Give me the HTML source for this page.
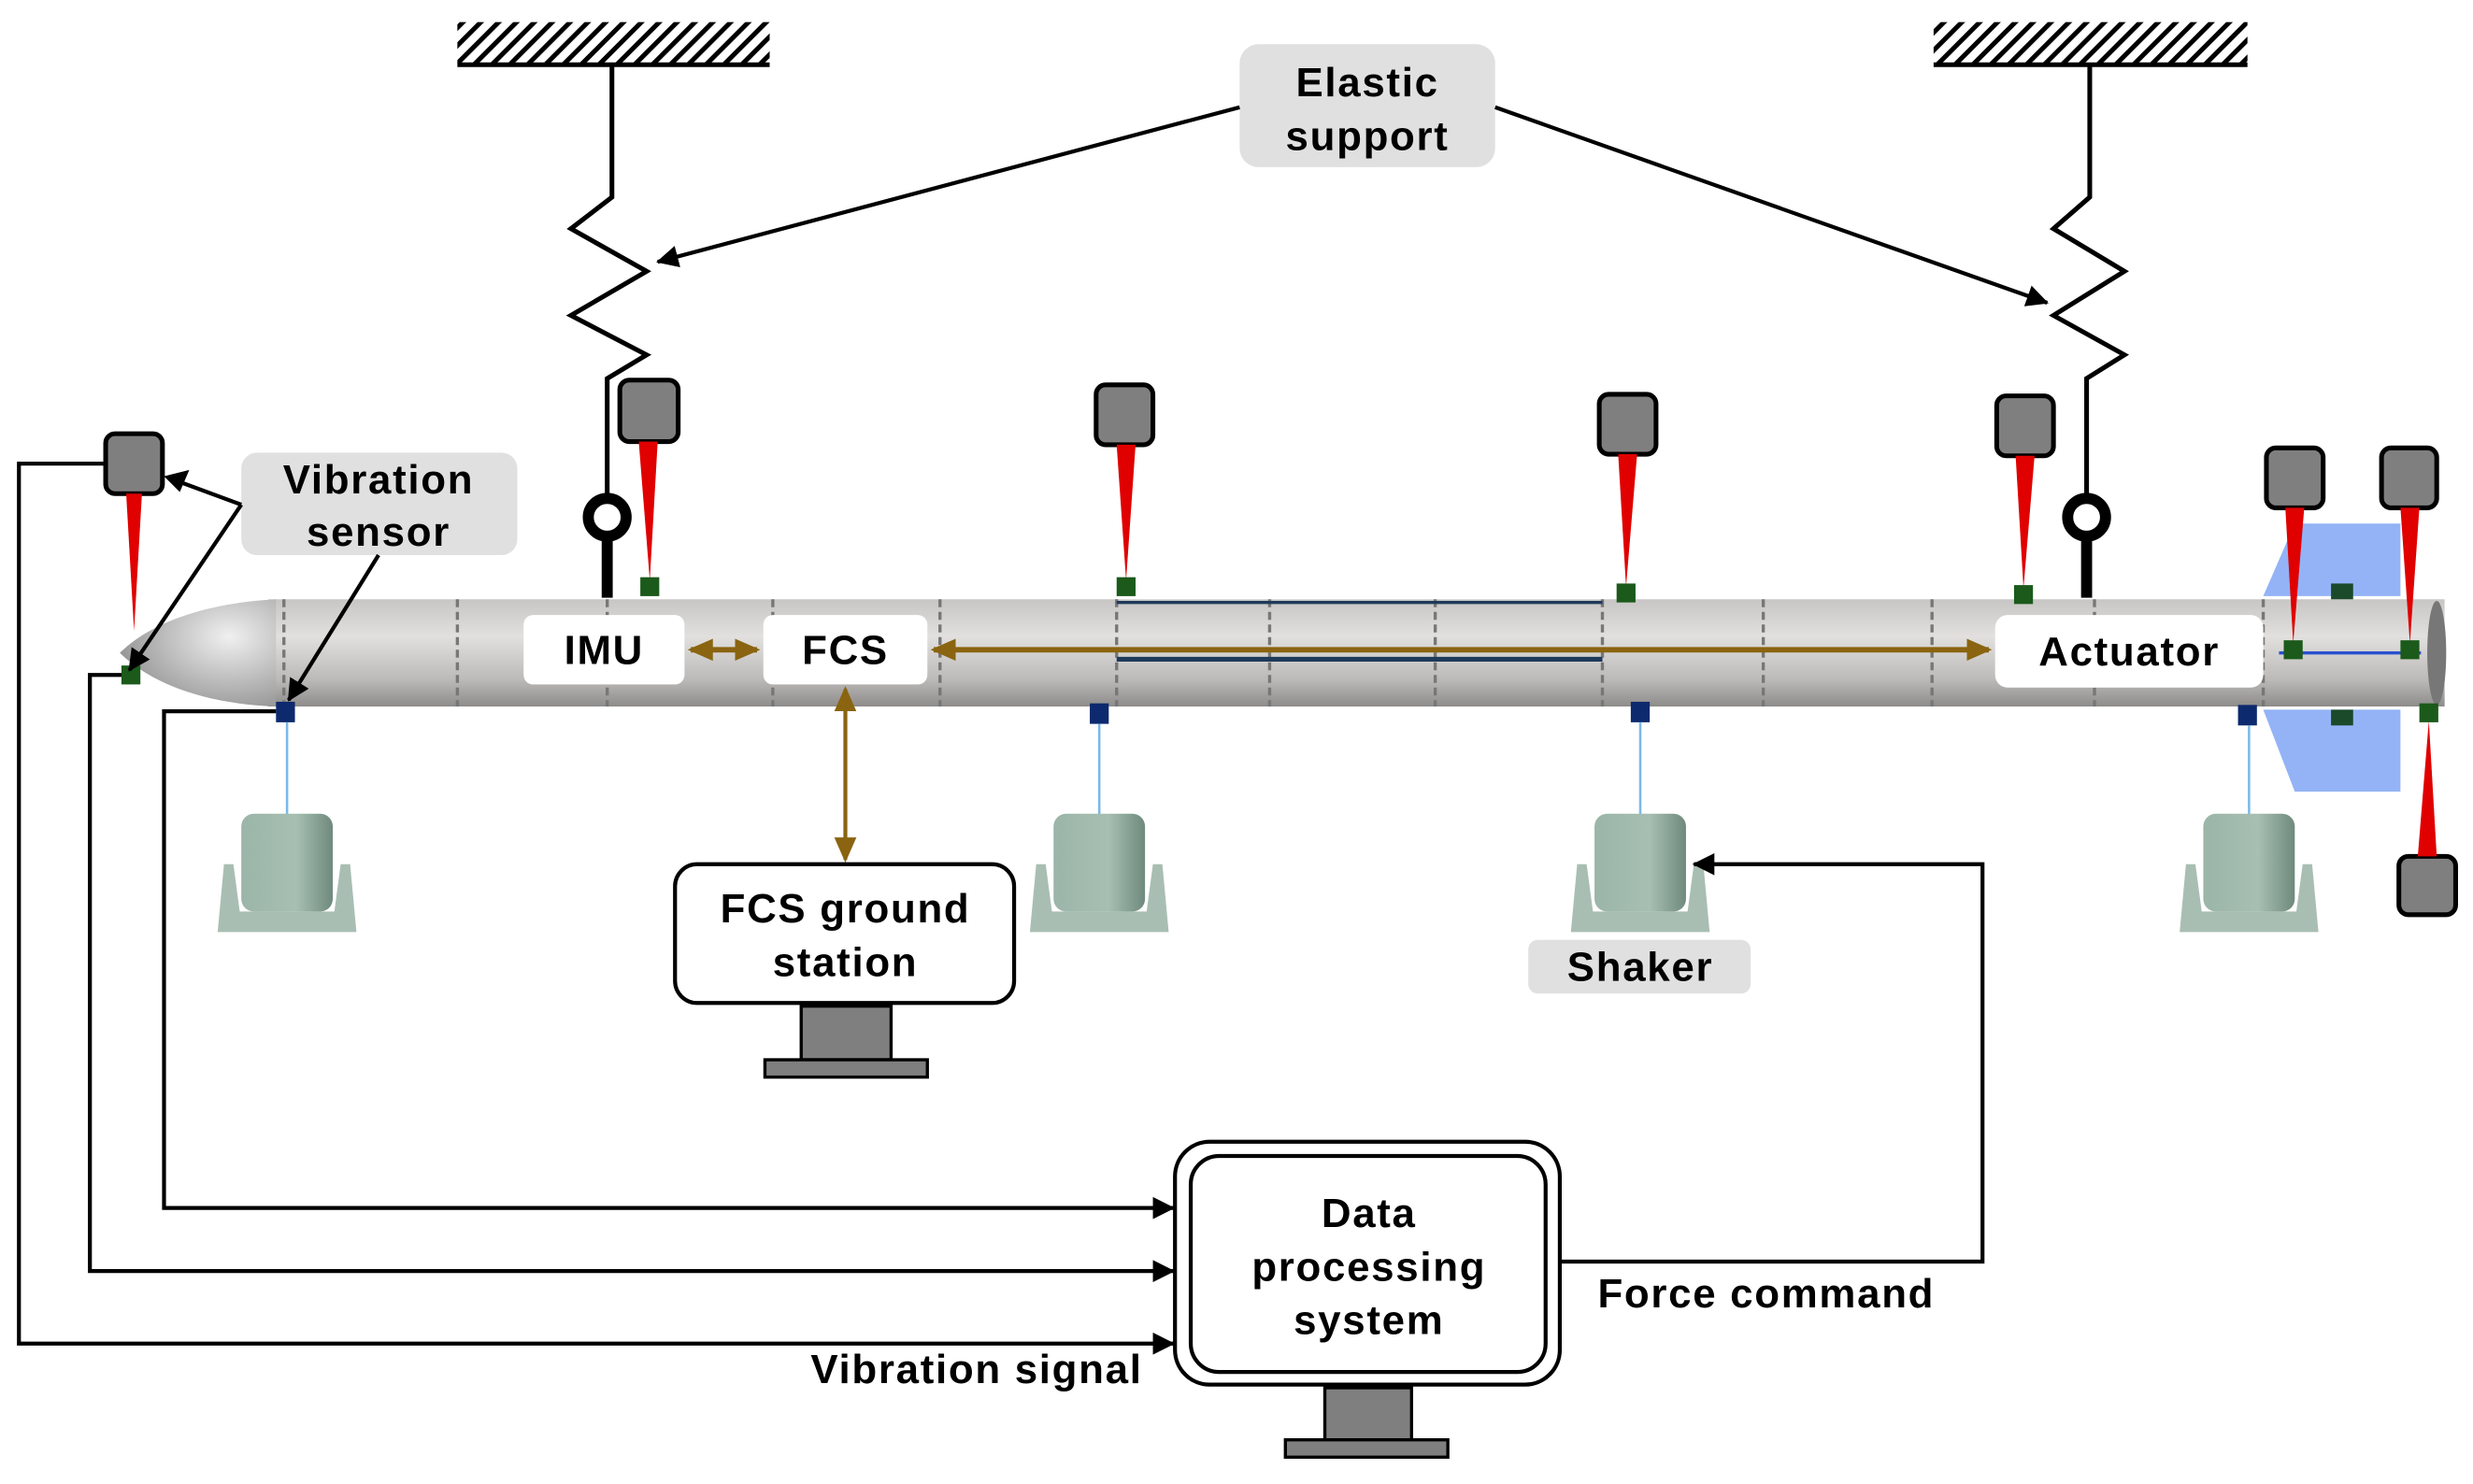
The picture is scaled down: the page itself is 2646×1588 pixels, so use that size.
<!DOCTYPE html>
<html><head><meta charset="utf-8"><style>
html,body{margin:0;padding:0;background:#fff;}
svg{display:block;}
text{font-family:"Liberation Sans",Arial,sans-serif;font-weight:bold;fill:#000;letter-spacing:1px;}
</style></head><body>
<svg width="2646" height="1588" viewBox="0 0 1568 941" xmlns="http://www.w3.org/2000/svg">
<defs>
<pattern id="hatch" width="8" height="8" patternUnits="userSpaceOnUse" patternTransform="rotate(45)">
<rect width="8" height="8" fill="#fff"/><rect width="3" height="8" fill="#000"/></pattern>
<linearGradient id="body" x1="0" y1="0" x2="0" y2="1">
<stop offset="0" stop-color="#c8c6c4"/><stop offset="0.35" stop-color="#e2e0de"/><stop offset="0.75" stop-color="#bcbab8"/><stop offset="1" stop-color="#8e8c8a"/></linearGradient>
<radialGradient id="nose" cx="0.7" cy="0.35" r="0.8"><stop offset="0" stop-color="#f0f0f0"/><stop offset="1" stop-color="#8c8c8c"/></radialGradient>
<linearGradient id="shk" x1="0" y1="0" x2="1" y2="0"><stop offset="0" stop-color="#9bb5a8"/><stop offset="0.6" stop-color="#a6bfb2"/><stop offset="1" stop-color="#6f8a7d"/></linearGradient>
<marker id="ab" markerWidth="10" markerHeight="10" refX="9" refY="5" orient="auto" markerUnits="userSpaceOnUse"><path d="M0,0 L10,5 L0,10 z" fill="#000"/></marker>
<marker id="ab2" markerWidth="14" markerHeight="14" refX="13" refY="7" orient="auto" markerUnits="userSpaceOnUse"><path d="M0,0 L14,7 L0,14 z" fill="#000"/></marker>
<marker id="br" markerWidth="16" markerHeight="16" refX="14" refY="8" orient="auto-start-reverse" markerUnits="userSpaceOnUse"><path d="M0,1 L16,8 L0,15 z" fill="#8a6410"/></marker>
</defs>

<rect x="290" y="14" width="198" height="26" fill="url(#hatch)"/><line x1="290" y1="41" x2="488" y2="41" stroke="#000" stroke-width="3"/>
<rect x="1226" y="14" width="199" height="26" fill="url(#hatch)"/><line x1="1226" y1="41" x2="1425" y2="41" stroke="#000" stroke-width="3"/>

<polyline points="388,42 388,125 362,145 410,172 362,200 410,225 385,240 385,318" fill="none" stroke="#000" stroke-width="3"/>
<circle cx="385" cy="328" r="12" fill="none" stroke="#000" stroke-width="7"/>
<line x1="385" y1="340" x2="385" y2="379" stroke="#000" stroke-width="7"/>
<polyline points="1325,42 1325,125 1302,145 1347,172 1302,200 1347,225 1323,240 1323,318" fill="none" stroke="#000" stroke-width="3"/>
<circle cx="1323" cy="328" r="12" fill="none" stroke="#000" stroke-width="7"/>
<line x1="1323" y1="340" x2="1323" y2="379" stroke="#000" stroke-width="7"/>

<rect x="786" y="28" width="162" height="78" rx="12" fill="#e0e0e0"/>
<text x="867" y="61" font-size="26" text-anchor="middle">Elastic</text>
<text x="867" y="95" font-size="26" text-anchor="middle">support</text>
<line x1="786" y1="68" x2="417" y2="166" stroke="#000" stroke-width="2.5" marker-end="url(#ab2)"/>
<line x1="948" y1="68" x2="1298" y2="192" stroke="#000" stroke-width="2.5" marker-end="url(#ab2)"/>

<polygon points="1435,378 1455,332 1522,332 1522,378" fill="#93b3f6"/>
<polygon points="1435,450 1455,502 1522,502 1522,450" fill="#93b3f6"/>

<rect x="170" y="380" width="1380" height="68" fill="url(#body)"/>
<path d="M175,380 C120,383 90,400 76,414 C90,428 120,446 175,448 z" fill="url(#nose)"/>
<ellipse cx="1545" cy="414" rx="6" ry="33" fill="#777"/>
<g stroke="#777" stroke-width="2" stroke-dasharray="5 3">
<line x1="180" y1="380" x2="180" y2="448"/><line x1="290" y1="380" x2="290" y2="448"/><line x1="385" y1="380" x2="385" y2="448"/>
<line x1="490" y1="380" x2="490" y2="448"/><line x1="596" y1="380" x2="596" y2="448"/><line x1="708" y1="380" x2="708" y2="448"/>
<line x1="805" y1="380" x2="805" y2="448"/><line x1="910" y1="380" x2="910" y2="448"/><line x1="1016" y1="380" x2="1016" y2="448"/>
<line x1="1118" y1="380" x2="1118" y2="448"/><line x1="1225" y1="380" x2="1225" y2="448"/><line x1="1328" y1="380" x2="1328" y2="448"/>
<line x1="1435" y1="380" x2="1435" y2="448"/>
</g>
<line x1="708" y1="382" x2="1016" y2="382" stroke="#1e3a5a" stroke-width="2"/>
<line x1="708" y1="418" x2="1016" y2="418" stroke="#1e3a5a" stroke-width="3"/>
<line x1="1445" y1="414" x2="1535" y2="414" stroke="#2a50d0" stroke-width="2"/>
<rect x="1478" y="370" width="14" height="10" fill="#1a4a2a"/><rect x="1478" y="450" width="14" height="10" fill="#1a4a2a"/>

<rect x="332" y="390" width="102" height="44" rx="6" fill="#fff"/><text x="383" y="421" font-size="26" text-anchor="middle">IMU</text>
<rect x="484" y="390" width="104" height="44" rx="6" fill="#fff"/><text x="536" y="421" font-size="26" text-anchor="middle">FCS</text>
<rect x="1265" y="390" width="170" height="46" rx="8" fill="#fff"/><text x="1350" y="422" font-size="26" text-anchor="middle">Actuator</text>

<g stroke="#8a6410" stroke-width="3.5" fill="none">
<line x1="438" y1="412" x2="480" y2="412" marker-start="url(#br)" marker-end="url(#br)"/>
<line x1="592" y1="412" x2="1261" y2="412" marker-start="url(#br)" marker-end="url(#br)"/>
<line x1="536" y1="437" x2="536" y2="545" stroke-width="2.5" marker-start="url(#br)" marker-end="url(#br)"/>
</g>

<rect x="428" y="548" width="215" height="88" rx="14" fill="#fff" stroke="#000" stroke-width="2.5"/>
<text x="536" y="585" font-size="26" text-anchor="middle">FCS ground</text>
<text x="536" y="619" font-size="26" text-anchor="middle">station</text>
<rect x="508" y="638" width="57" height="34" fill="#7f7f7f" stroke="#000" stroke-width="2"/>
<rect x="485" y="672" width="103" height="11" fill="#7f7f7f" stroke="#000" stroke-width="2"/>

<g stroke="#000" stroke-width="3" fill="#7f7f7f">
<rect x="67" y="275" width="36" height="38" rx="6"/>
<rect x="393" y="241" width="37" height="39" rx="6"/>
<rect x="695" y="244" width="36" height="38" rx="6"/>
<rect x="1014" y="250" width="36" height="38" rx="6"/>
<rect x="1266" y="251" width="36" height="38" rx="6"/>
<rect x="1437" y="284" width="36" height="38" rx="6"/>
<rect x="1510" y="284" width="35" height="38" rx="6"/>
<rect x="1521" y="543" width="36" height="37" rx="6"/>
</g>
<g fill="#e00000">
<polygon points="80,313 90,313 85,400"/>
<polygon points="405,280 417,280 412,368"/>
<polygon points="708,282 720,282 714,368"/>
<polygon points="1026,288 1038,288 1031,372"/>
<polygon points="1278,289 1290,289 1283,373"/>
<polygon points="1449,322 1461,322 1454,408"/>
<polygon points="1522,322 1534,322 1528,408"/>
<polygon points="1533,543 1545,543 1540,457"/>
</g>
<g fill="#1b5a1b">
<rect x="77" y="422" width="12" height="12"/>
<rect x="406" y="366" width="12" height="12"/>
<rect x="708" y="366" width="12" height="12"/>
<rect x="1025" y="370" width="12" height="12"/>
<rect x="1277" y="371" width="12" height="12"/>
<rect x="1448" y="406" width="12" height="12"/>
<rect x="1522" y="406" width="12" height="12"/>
<rect x="1534" y="446" width="12" height="12"/>
</g>
<g fill="#0d2a6e">
<rect x="175" y="445" width="12" height="13"/>
<rect x="691" y="446" width="12" height="13"/>
<rect x="1034" y="445" width="12" height="13"/>
<rect x="1419" y="447" width="12" height="13"/>
</g>

<g>
<g transform="translate(182,0)">
<line x1="0" y1="458" x2="0" y2="517" stroke="#7ab8e8" stroke-width="1.5"/>
<path d="M-40,548 L-34,548 L-30,578 L30,578 L34,548 L40,548 L44,591 L-44,591 z" fill="#a9beb3"/>
<rect x="-29" y="516" width="58" height="62" rx="8" fill="url(#shk)"/>
</g>
<g transform="translate(697,0)">
<line x1="0" y1="459" x2="0" y2="517" stroke="#7ab8e8" stroke-width="1.5"/>
<path d="M-40,548 L-34,548 L-30,578 L30,578 L34,548 L40,548 L44,591 L-44,591 z" fill="#a9beb3"/>
<rect x="-29" y="516" width="58" height="62" rx="8" fill="url(#shk)"/>
</g>
<g transform="translate(1040,0)">
<line x1="0" y1="458" x2="0" y2="517" stroke="#7ab8e8" stroke-width="1.5"/>
<path d="M-40,548 L-34,548 L-30,578 L30,578 L34,548 L40,548 L44,591 L-44,591 z" fill="#a9beb3"/>
<rect x="-29" y="516" width="58" height="62" rx="8" fill="url(#shk)"/>
</g>
<g transform="translate(1426,0)">
<line x1="0" y1="460" x2="0" y2="517" stroke="#7ab8e8" stroke-width="1.5"/>
<path d="M-40,548 L-34,548 L-30,578 L30,578 L34,548 L40,548 L44,591 L-44,591 z" fill="#a9beb3"/>
<rect x="-29" y="516" width="58" height="62" rx="8" fill="url(#shk)"/>
</g>
</g>
<rect x="969" y="596" width="141" height="34" rx="6" fill="#e0e0e0"/>
<text x="1040" y="622" font-size="26" text-anchor="middle">Shaker</text>

<rect x="153" y="287" width="175" height="65" rx="10" fill="#e0e0e0"/>
<text x="240" y="313" font-size="26" text-anchor="middle">Vibration</text>
<text x="240" y="346" font-size="26" text-anchor="middle">sensor</text>
<g stroke="#000" stroke-width="2.5" fill="none">
<line x1="153" y1="320" x2="115" y2="306"/>
<line x1="153" y1="320" x2="82" y2="425" marker-end="url(#ab2)"/>
<line x1="240" y1="352" x2="183" y2="444" marker-end="url(#ab2)"/>
</g>
<path d="M104,302 L120,298 L114,312 z" fill="#000"/>

<rect x="745" y="724" width="244" height="154" rx="22" fill="#fff" stroke="#000" stroke-width="2.5"/>
<rect x="755" y="733" width="225" height="137" rx="18" fill="#fff" stroke="#000" stroke-width="2.5"/>
<text x="868" y="778" font-size="26" text-anchor="middle">Data</text>
<text x="868" y="812" font-size="26" text-anchor="middle">processing</text>
<text x="868" y="846" font-size="26" text-anchor="middle">system</text>
<rect x="840" y="880" width="55" height="33" fill="#7f7f7f" stroke="#000" stroke-width="2"/>
<rect x="815" y="913" width="103" height="11" fill="#7f7f7f" stroke="#000" stroke-width="2"/>

<g stroke="#000" stroke-width="2.5" fill="none">
<polyline points="67,294 12,294 12,852 744,852" marker-end="url(#ab2)"/>
<polyline points="77,428 57,428 57,806 744,806" marker-end="url(#ab2)"/>
<polyline points="175,451 104,451 104,766 744,766" marker-end="url(#ab2)"/>
<polyline points="989,800 1257,800 1257,548 1074,548" marker-end="url(#ab2)"/>
</g>
<text x="1013" y="829" font-size="26">Force command</text>
<text x="514" y="877" font-size="26">Vibration signal</text>
</svg>
</body></html>
